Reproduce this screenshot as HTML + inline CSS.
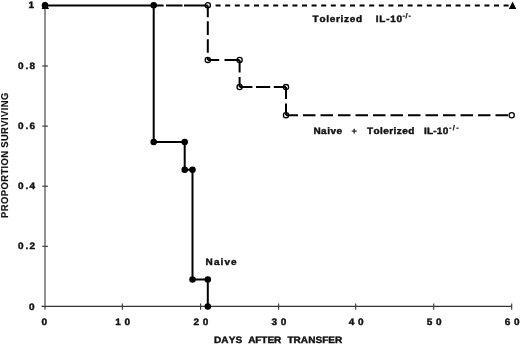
<!DOCTYPE html><html><head><meta charset="utf-8"><title>Survival</title><style>html,body{margin:0;padding:0;background:#fff}svg{display:block}text{font-family:"Liberation Sans",sans-serif;font-weight:bold;font-size:10px;fill:#111;stroke:#111;stroke-width:0.45px;text-rendering:geometricPrecision;font-kerning:none}</style></head><body>
<svg width="520" height="344" viewBox="0 0 520 344">
<rect width="520" height="344" fill="#fff"/>
<g stroke="#363636" stroke-width="1.1" fill="none" shape-rendering="auto">
<line x1="45.0" y1="5.9" x2="45.0" y2="309.7"/>
<line x1="41.5" y1="306.4" x2="511.7" y2="306.4"/>
<line x1="122.3" y1="303.4" x2="122.3" y2="309.7"/>
<line x1="200.6" y1="303.4" x2="200.6" y2="309.7"/>
<line x1="278.6" y1="303.4" x2="278.6" y2="309.7"/>
<line x1="355.7" y1="303.4" x2="355.7" y2="309.7"/>
<line x1="433.75" y1="303.4" x2="433.75" y2="309.7"/>
<line x1="511.7" y1="303.4" x2="511.7" y2="309.7"/>
<line x1="42.2" y1="246.3" x2="48.0" y2="246.3"/>
<line x1="42.2" y1="186.2" x2="48.0" y2="186.2"/>
<line x1="42.2" y1="126.1" x2="48.0" y2="126.1"/>
<line x1="42.2" y1="66.0" x2="48.0" y2="66.0"/>
</g>
<line x1="210.8" y1="5.5" x2="509.2" y2="5.5" stroke="#000" stroke-width="2" stroke-dasharray="5 4.6" stroke-dashoffset="-4.799999999999983"/>
<path d="M153.7 5.5H163.7M166 5.5H182.5M184 5.5H207.8" stroke="#000" stroke-width="2" fill="none"/>
<path d="M207.8 5.5V17.2M207.8 21.3V35.1M207.8 39.2V52.8M207.8 57V59.9M207.8 59.9H219.2M224.5 59.9H239.6M239.6 59.9V72.6M239.6 77V87.1M239.6 87.1H252.4M256 87.1H270.2M273.8 87.1H286M286 87.1V98.9M286 103.4V115.2" stroke="#000" stroke-width="2" fill="none"/>
<line x1="286.0" y1="115.2" x2="511.7" y2="115.2" stroke="#000" stroke-width="2" stroke-dasharray="12.5 5" stroke-dashoffset="0.5"/>
<path d="M45.0 5.5 L153.7 5.5 L153.7 142.1 L184.7 142.1 L184.7 169.8 L192.5 169.8 L192.5 279.5 L207.8 279.5 L207.8 306.5" stroke="#000" stroke-width="2" fill="none" stroke-linejoin="miter"/>
<circle cx="45.0" cy="5.2" r="3.25" fill="#000"/>
<circle cx="153.7" cy="5.2" r="3.25" fill="#000"/>
<circle cx="153.7" cy="142.1" r="3.25" fill="#000"/>
<circle cx="184.7" cy="142.1" r="3.25" fill="#000"/>
<circle cx="184.7" cy="169.8" r="3.25" fill="#000"/>
<circle cx="192.5" cy="169.8" r="3.25" fill="#000"/>
<circle cx="192.5" cy="279.5" r="3.25" fill="#000"/>
<circle cx="207.8" cy="279.5" r="3.25" fill="#000"/>
<circle cx="207.8" cy="306.5" r="3.25" fill="#000"/>
<circle cx="207.8" cy="5.2" r="2.6" fill="none" stroke="#000" stroke-width="1.3"/>
<circle cx="207.8" cy="59.9" r="2.6" fill="none" stroke="#000" stroke-width="1.3"/>
<circle cx="239.6" cy="59.9" r="2.6" fill="none" stroke="#000" stroke-width="1.3"/>
<circle cx="239.6" cy="87.1" r="2.6" fill="none" stroke="#000" stroke-width="1.3"/>
<circle cx="286.0" cy="87.1" r="2.6" fill="none" stroke="#000" stroke-width="1.3"/>
<circle cx="286.0" cy="115.2" r="2.6" fill="none" stroke="#000" stroke-width="1.3"/>
<circle cx="511.7" cy="115.2" r="2.6" fill="none" stroke="#000" stroke-width="1.3"/>
<path d="M45.3 1.5L49.0 9H41.599999999999994Z" fill="#000"/>
<path d="M512.6 1.5L516.3000000000001 9H508.90000000000003Z" fill="#000"/>
<text transform="translate(41.4,324.7) scale(1,0.93)" text-anchor="start">0</text>
<text transform="translate(0,324.7) scale(1,0.93)" x="115.3 124.55">10</text>
<text transform="translate(0,324.7) scale(1,0.93)" x="193.6 202.85">20</text>
<text transform="translate(0,324.7) scale(1,0.93)" x="271.6 280.85">30</text>
<text transform="translate(0,324.7) scale(1,0.93)" x="348.7 357.95">40</text>
<text transform="translate(0,324.7) scale(1,0.93)" x="426.75 436.0">50</text>
<text transform="translate(0,324.7) scale(1,0.93)" x="504.7 513.95">60</text>
<text transform="translate(28.6,8.3) scale(1,0.93)" text-anchor="start">1</text>
<text transform="translate(0,69.1) scale(1,0.93)" x="18 25.4 29.6">0.8</text>
<text transform="translate(0,129.2) scale(1,0.93)" x="18 25.4 29.6">0.6</text>
<text transform="translate(0,189.3) scale(1,0.93)" x="18 25.4 29.6">0.4</text>
<text transform="translate(0,249.4) scale(1,0.93)" x="18 25.4 29.6">0.2</text>
<text transform="translate(28.9,309.9) scale(1,0.93)" text-anchor="start">0</text>
<text transform="translate(0,342.5) scale(1,0.93)"><tspan x="214.0" y="0" textLength="28.2" lengthAdjust="spacing">DAYS</tspan> <tspan x="248.2" y="0" textLength="33.0" lengthAdjust="spacing">AFTER</tspan> <tspan x="287.4" y="0" textLength="54.9" lengthAdjust="spacing">TRANSFER</tspan></text>
<text transform="translate(8.4,217.9) rotate(-90) scale(0.94,1)" style="letter-spacing:0.45px;stroke-width:0.15px"><tspan x="0">PROPORTION</tspan> <tspan x="74.57">SURVIVING</tspan></text>
<text transform="translate(205.6,264.6) scale(1,0.93)" text-anchor="start" textLength="31" lengthAdjust="spacing">Naive</text>
<text transform="translate(0,22) scale(1,0.93)"><tspan x="312.6" y="0" textLength="49.6" lengthAdjust="spacing">Tolerized</tspan> <tspan x="375.8" y="0" textLength="26.3" lengthAdjust="spacing">IL-10</tspan> <tspan x="402.4" y="-3.98" textLength="8.5" lengthAdjust="spacing" style="font-size:7.4px;stroke-width:0.25px">-/-</tspan></text>
<text transform="translate(0,133.5) scale(1,0.93)"><tspan x="313.4" y="0" textLength="28.6" lengthAdjust="spacing">Naive</tspan> <tspan x="351.6" y="0.97" style="font-size:9.3px;stroke-width:0.25px">+</tspan> <tspan x="367" y="0" textLength="47.3" lengthAdjust="spacing">Tolerized</tspan> <tspan x="424" y="0" textLength="24.2" lengthAdjust="spacing">IL-10</tspan> <tspan x="448.9" y="-4.19" textLength="9.8" lengthAdjust="spacing" style="font-size:7.4px;stroke-width:0.25px">-/-</tspan></text>
</svg></body></html>
